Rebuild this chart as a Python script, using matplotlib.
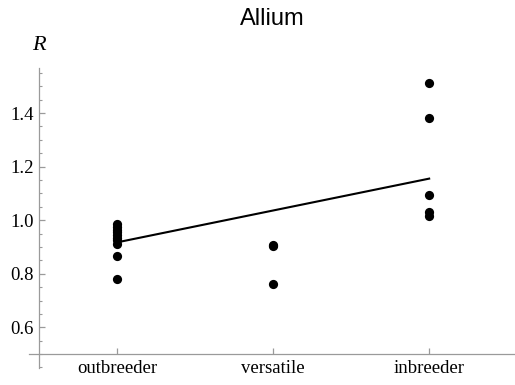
import numpy as np
import matplotlib
matplotlib.use("Agg")
import matplotlib.pyplot as plt
from matplotlib.ticker import MultipleLocator, FixedLocator

categories = ["outbreeder", "versatile", "inbreeder"]
outbreeder = [0.985, 0.975, 0.965, 0.955, 0.945, 0.935, 0.925, 0.91, 0.868, 0.78]
versatile = [0.907, 0.902, 0.762]
inbreeder = [1.512, 1.382, 1.093, 1.032, 1.017]
fit_y = [0.917, 1.155]   # fitted line at outbreeder / inbreeder

groups = [outbreeder, versatile, inbreeder]
axis_grey = "#9a9a9a"

fig = plt.figure(figsize=(5.15, 3.85), dpi=100)
ax = fig.add_axes([29 / 515, 17 / 385, 486 / 515, 300 / 385])

for i, vals in enumerate(groups):
    ax.scatter(np.full(len(vals), i + 1), vals, s=44, color="black",
               zorder=3, linewidths=0)
ax.plot([1, 3], fit_y, color="black", lw=1.5, zorder=2)

ax.set_xlim(0.436, 3.55)
ax.set_ylim(0.448, 1.568)

for s in ["top", "right"]:
    ax.spines[s].set_visible(False)
ax.spines["bottom"].set_position(("data", 0.5))
ax.spines["left"].set_position(("data", 0.5))
for s in ["bottom", "left"]:
    ax.spines[s].set_color(axis_grey)
    ax.spines[s].set_linewidth(0.9)

ax.set_xticks([1, 2, 3])
ax.set_xticklabels(categories, family="Liberation Serif", fontsize=13.5)
ax.yaxis.set_major_locator(FixedLocator([0.6, 0.8, 1.0, 1.2, 1.4]))
ax.yaxis.set_minor_locator(MultipleLocator(0.05))
ax.set_yticklabels(["0.6", "0.8", "1.0", "1.2", "1.4"],
                   family="Liberation Serif", fontsize=13.5)
ax.tick_params(axis="both", which="major", direction="in", length=4.5,
               width=0.9, color=axis_grey, pad=4)
ax.tick_params(axis="y", which="minor", direction="in", length=2.5,
               width=0.8, color=axis_grey)

fig.text(38.5 / 515, 1 - 45 / 385, "R", family="Liberation Serif",
         style="italic", fontsize=16, ha="center", va="center")
fig.text(272 / 515, 1 - 19 / 385, "Allium", family="Liberation Sans",
         fontsize=17, ha="center", va="center")

fig.savefig("out.png", dpi=100)
